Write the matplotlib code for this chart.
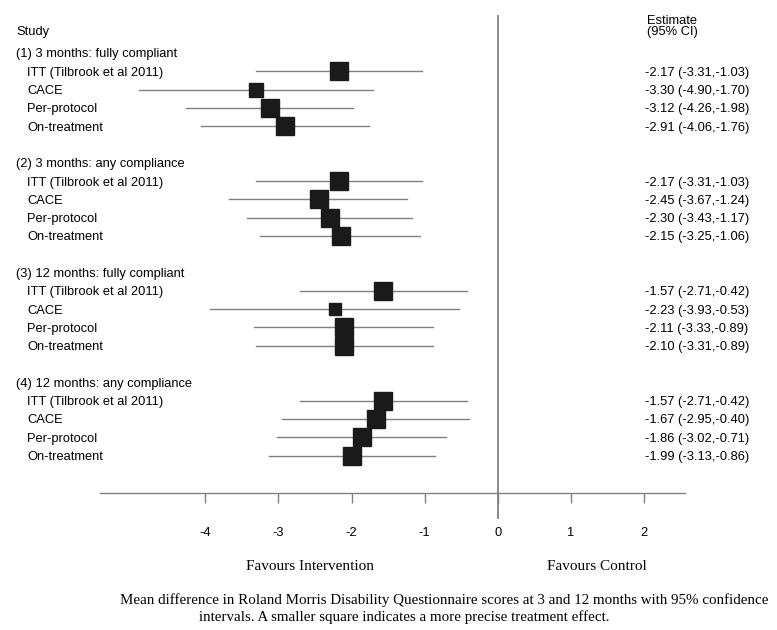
import matplotlib
matplotlib.use("Agg")
import matplotlib.pyplot as plt
import matplotlib.transforms as mtransforms

groups = ["(1) 3 months: fully compliant", "(2) 3 months: any compliance",
          "(3) 12 months: fully compliant", "(4) 12 months: any compliance"]
methods = ["ITT (Tilbrook et al 2011)", "CACE", "Per-protocol", "On-treatment"]

est = [[-2.17, -3.30, -3.12, -2.91],
       [-2.17, -2.45, -2.30, -2.15],
       [-1.57, -2.23, -2.11, -2.10],
       [-1.57, -1.67, -1.86, -1.99]]
lo = [[-3.31, -4.90, -4.26, -4.06],
      [-3.31, -3.67, -3.43, -3.25],
      [-2.71, -3.93, -3.33, -3.31],
      [-2.71, -2.95, -3.02, -3.13]]
hi = [[-1.03, -1.70, -1.98, -1.76],
      [-1.03, -1.24, -1.17, -1.06],
      [-0.42, -0.53, -0.89, -0.89],
      [-0.42, -0.40, -0.71, -0.86]]
# relative square size
weight = [[1.0, 0.75, 1.0, 1.0],
          [1.0, 1.0, 1.0, 1.0],
          [1.0, 0.68, 1.0, 1.0],
          [1.0, 0.95, 1.0, 1.0]]
xticks = [-4, -3, -2, -1, 0, 1, 2]

sans = "Liberation Sans"
serif = "Liberation Serif"
grey = "#808080"
W, H = 777, 630
fs = 9.3

fig = plt.figure(figsize=(W / 100, H / 100), dpi=100)
ax = fig.add_axes([100 / W, 1 - 492.7 / H, 585 / W, (492.7 - 16) / H])
ax.set_xlim(-5.44, 2.56)
ax.set_ylim(24.03, -2.02)

lab = mtransforms.blended_transform_factory(fig.transFigure, ax.transData)
dy = 0.08  # small nudge so text sits on the row like the original

ax.text(16 / W, -1.2 + dy, "Study", transform=lab, family=sans, fontsize=fs, va="center")
ax.text(647 / W, -1.85 + dy, "Estimate", transform=lab, family=sans, fontsize=fs, va="center")
ax.text(647 / W, -1.2 + dy, "(95% CI)", transform=lab, family=sans, fontsize=fs, va="center")

for g, name in enumerate(groups):
    base = g * 6
    ax.text(16 / W, base + dy, name, transform=lab, family=sans, fontsize=fs, va="center")
    for i, m in enumerate(methods):
        y = base + 1 + i
        ax.text(27 / W, y + dy, m, transform=lab, family=sans, fontsize=fs, va="center")
        ax.plot([lo[g][i], hi[g][i]], [y, y], color=grey, lw=1.0, zorder=2)
        ax.plot(est[g][i], y, marker="s", ms=13.5 * weight[g][i], color="#1a1a1a",
                mec="#1a1a1a", zorder=3)
        ax.text(645 / W, y + dy, f"{est[g][i]:.2f} ({lo[g][i]:.2f},{hi[g][i]:.2f})",
                transform=lab, family=sans, fontsize=fs, va="center")

# line of no effect, runs a little below the axis
ax.axvline(0, ymin=-(518 - 492.7) / (492.7 - 16), ymax=1, color=grey, lw=1.3,
           clip_on=False, zorder=1)

for s in ["top", "left", "right"]:
    ax.spines[s].set_visible(False)
ax.spines["bottom"].set_color(grey)
ax.spines["bottom"].set_linewidth(1.0)
ax.set_yticks([])
ax.set_xticks(xticks)
ax.set_xticklabels([str(t) for t in xticks], family=sans, fontsize=fs)
ax.tick_params(axis="x", direction="out", length=7.4, width=1.0, color=grey, pad=17)

fig.text(310 / W, 1 - 567 / H, "Favours Intervention", family=serif, fontsize=11,
         ha="center", va="center")
fig.text(597 / W, 1 - 567 / H, "Favours Control", family=serif, fontsize=11,
         ha="center", va="center")
fig.text(120 / W, 1 - 600 / H,
         "Mean difference in Roland Morris Disability Questionnaire scores at 3 and 12 months with 95% confidence",
         family=serif, fontsize=10.8, ha="left", va="center")
fig.text(199 / W, 1 - 617 / H,
         "intervals. A smaller square indicates a more precise treatment effect.",
         family=serif, fontsize=10.8, ha="left", va="center")

fig.savefig("out.png", dpi=100)
